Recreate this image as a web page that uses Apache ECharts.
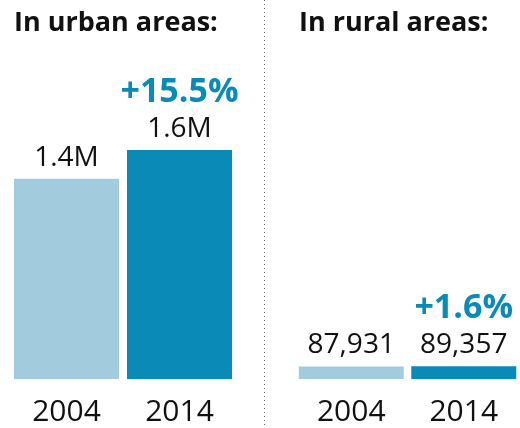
<!DOCTYPE html>
<html>
<head>
<meta charset="utf-8">
<script src="https://cdn.jsdelivr.net/npm/echarts@6/dist/echarts.min.js"></script>
<style>
  html, body { margin: 0; padding: 0; background: #fff; }
  #chart { width: 520px; height: 428px; }
</style>
</head>
<body>
<div id="chart"></div>
<script>
// Population counts by year, split into urban and rural areas
const years = ['2004', '2014'];
const urbanValues = [1400000, 1600000];
const ruralValues = [87931, 89357];
const urbanChange = '+15.5%';
const ruralChange = '+1.6%';
const panelTitles = ['In urban areas:', 'In rural areas:'];

const FONT = '"Open Sans", "Noto Sans", sans-serif';
const LIGHT = '#a3cbde';
const DARK = '#0a8ab6';
const INK = '#111';
const yMax = 1600000;

function fmt(v) {
  if (v >= 1000000) return (v / 1000000).toFixed(1) + 'M';
  return v.toLocaleString('en-US');
}

function barData(values, change) {
  return values.map((v, i) => ({
    value: v,
    itemStyle: { color: i === 0 ? LIGHT : DARK },
    label: {
      show: true,
      position: 'top',
      distance: 5,
      formatter: i === 0 ? '{val|' + fmt(v) + '}' : '{pct|' + change + '}\n{val|' + fmt(v) + '}',
      rich: {
        val: { fontFamily: FONT, fontSize: 28, color: INK, lineHeight: 32 },
        pct: { fontFamily: FONT, fontSize: 34, fontWeight: 'bold', color: DARK, lineHeight: 42 }
      }
    }
  }));
}

const xAxisCommon = {
  type: 'category',
  data: years,
  axisLine: { show: false },
  axisTick: { show: false },
  axisLabel: { fontFamily: FONT, fontSize: 30, color: INK, margin: 18 }
};
const yAxisCommon = {
  type: 'value',
  min: 0,
  max: yMax,
  show: false
};

const titleStyle = { fontFamily: FONT, fontSize: 27, fontWeight: 'bold', color: INK };

const chart = echarts.init(document.getElementById('chart'), null, { renderer: 'canvas' });
chart.setOption({
  animation: false,
  backgroundColor: '#fff',
  title: [
    { text: panelTitles[0], left: 9, top: 5, textStyle: titleStyle },
    { text: panelTitles[1], left: 294, top: 5, textStyle: titleStyle }
  ],
  grid: [
    { left: 10, width: 226, top: 150, bottom: 49 },
    { left: 295, width: 226, top: 150, bottom: 49 }
  ],
  xAxis: [
    Object.assign({ gridIndex: 0 }, xAxisCommon),
    Object.assign({ gridIndex: 1 }, xAxisCommon)
  ],
  yAxis: [
    Object.assign({ gridIndex: 0 }, yAxisCommon),
    Object.assign({ gridIndex: 1 }, yAxisCommon)
  ],
  series: [
    { type: 'bar', xAxisIndex: 0, yAxisIndex: 0, barWidth: 105, data: barData(urbanValues, urbanChange) },
    { type: 'bar', xAxisIndex: 1, yAxisIndex: 1, barWidth: 105, data: barData(ruralValues, ruralChange) }
  ],
  graphic: [
    {
      type: 'line',
      shape: { x1: 264.5, y1: 0, x2: 264.5, y2: 428 },
      style: { stroke: '#666', lineWidth: 1, lineDash: [1, 3] }
    }
  ]
});
</script>
</body>
</html>
